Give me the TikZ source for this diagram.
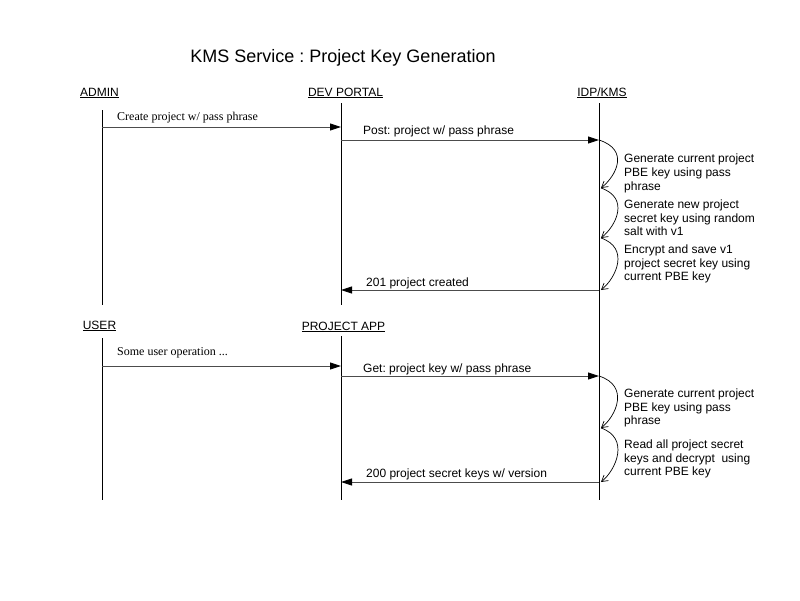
\documentclass[tikz,border=0pt]{standalone}
\usepackage{fontspec}
\setmainfont{Liberation Sans}
\newfontfamily\handfont{Liberation Serif}
\usetikzlibrary{arrows.meta,positioning}
\frenchspacing

\begin{document}
\begin{tikzpicture}[x=1pt,y=-1pt,
    actor/.style={font=\fontsize{12}{14}\selectfont,anchor=base,inner sep=0pt},
    lifeline/.style={draw=black,line width=0.9pt},
    msg/.style={draw=black!70,line width=0.9pt,-{Triangle[length=11pt,width=7pt,color=black]}},
    selfmsg/.style={draw=black,line width=0.7pt,-{Straight Barb[length=6pt,width=7pt]}},
    lbl/.style={font=\fontsize{12}{14}\selectfont,anchor=base west,inner sep=0pt},
    hand/.style={font=\handfont\fontsize{12}{14}\selectfont,anchor=base west,inner sep=0pt},
    note/.style={font=\fontsize{12}{13.6}\selectfont,align=left,anchor=north west,inner sep=0pt}
  ]
    \useasboundingbox (0,0) rectangle (800,600);

    % Title
    \node[font=\fontsize{18}{20}\selectfont,anchor=base,inner sep=0pt] (title) at (343,62.5) {KMS Service : Project Key Generation};

    % Actors of the first part
    \node[actor] (admin) at (99.5,96) {\underline{ADMIN}};
    \node[actor] (portal) at (345.5,96) {\underline{DEV PORTAL}};
    \node[actor] (kms) at (602,96) {\underline{IDP/KMS}};

    % Actors of the second part
    \node[actor] (user) at (99.5,329) {\underline{USER}};
    \node[actor] (app) at (343.5,330) {\underline{PROJECT APP}};

    % Lifelines
    \coordinate (admTop) at (102,110);  \coordinate (admBot) at (102,305);
    \coordinate (devTop) at (341,103);  \coordinate (devBot) at (341,305);
    \coordinate (kmsTop) at (599,103);  \coordinate (kmsBot) at (599,500);
    \coordinate (usrTop) at (102,338);  \coordinate (usrBot) at (102,500);
    \coordinate (appTop) at (341,336);  \coordinate (appBot) at (341,500);
    \draw[lifeline] (admTop) -- (admBot);
    \draw[lifeline] (devTop) -- (devBot);
    \draw[lifeline] (kmsTop) -- (kmsBot);
    \draw[lifeline] (usrTop) -- (usrBot);
    \draw[lifeline] (appTop) -- (appBot);

    % Project creation
    \coordinate (a1) at (102,127);  \coordinate (d1) at (341,127);
    \coordinate (d2) at (341,140);  \coordinate (k2) at (599,140);
    \coordinate (k3) at (601,188);  \coordinate (k4) at (601,238);
    \coordinate (k5) at (601,290);
    \coordinate (k6) at (599,290);  \coordinate (d6) at (341,290);
    \draw[msg] (a1) -- (d1);
    \node[hand] (create) at (117,120.5) {Create project w/ pass phrase};
    \draw[msg] (d2) -- (k2);
    \node[lbl] (post) at (363,134.5) {Post: project w/ pass phrase};
    \draw[selfmsg] (k2) .. controls (630,150) and (616,176) .. (k3);
    \node[note] (gen1) at (624,154) {Generate current project\\PBE key using pass\\phrase};
    \draw[selfmsg] (k3) .. controls (630,198) and (616,226) .. (k4);
    \node[note] (gen2) at (624,199.5) {Generate new project\\secret key using random\\salt with v1};
    \draw[selfmsg] (k4) .. controls (630,248) and (616,278) .. (k5);
    \node[note] (enc) at (624,244.5) {Encrypt and save v1\\project secret key using\\current PBE key};
    \draw[msg] (k6) -- (d6);
    \node[lbl] (created) at (366,286) {201 project created};

    % Project key retrieval
    \coordinate (u1) at (102,366);  \coordinate (p1) at (341,366);
    \coordinate (p2) at (341,376);  \coordinate (k7) at (599,376);
    \coordinate (k8) at (601,428);  \coordinate (k9) at (601,482);
    \coordinate (k10) at (599,482); \coordinate (p10) at (341,482);
    \draw[msg] (u1) -- (p1);
    \node[hand] (userop) at (117,355) {Some user operation ...};
    \draw[msg] (p2) -- (k7);
    \node[lbl] (get) at (363,372) {Get: project key w/ pass phrase};
    \draw[selfmsg] (k7) .. controls (630,386) and (616,416) .. (k8);
    \node[note] (gen3) at (624,388.5) {Generate current project\\PBE key using pass\\phrase};
    \draw[selfmsg] (k8) .. controls (630,438) and (616,470) .. (k9);
    \node[note] (read) at (624,439.5) {Read all project secret\\keys and decrypt\ \ using\\current PBE key};
    \draw[msg] (k10) -- (p10);
    \node[lbl] (keys) at (366,477) {200 project secret keys w/ version};
  \end{tikzpicture}
\end{document}
